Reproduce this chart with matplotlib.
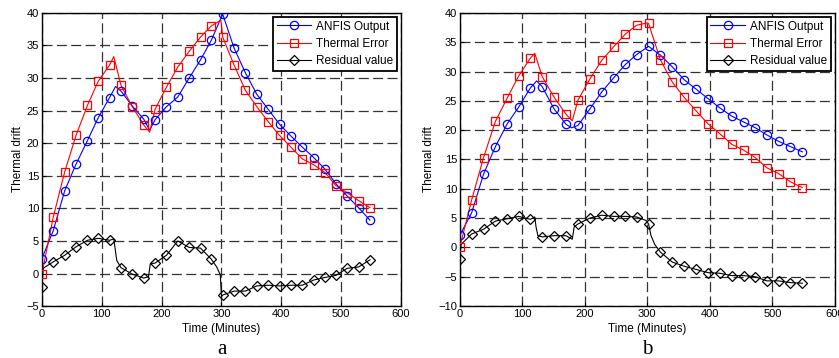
import numpy as np
import matplotlib
matplotlib.use('Agg')
import matplotlib.pyplot as plt
from matplotlib.lines import Line2D

plt.rcParams['font.family'] = ['Liberation Sans', 'DejaVu Sans']

# sample times where the markers sit (minutes)
t_mark = [0, 19, 38, 57, 76, 94, 113, 132, 151, 170, 189, 208, 227, 246, 265,
          283, 302, 321, 340, 359, 378, 397, 416, 435, 454, 473, 491, 510, 529, 548]

# ---- panel a ----
anfis_a = [2.3, 6.6, 12.7, 16.8, 20.4, 23.9, 27.0, 28.0, 25.7, 23.7, 23.6, 25.6, 27.1, 30.0, 32.8,
           35.8, 39.8, 34.6, 30.8, 27.5, 25.2, 22.9, 21.1, 19.4, 17.8, 16.0, 13.8, 11.9, 10.1, 8.2]
therm_a = [0.0, 8.7, 15.6, 21.2, 25.8, 29.5, 32.0, 28.9, 25.6, 22.8, 25.2, 28.6, 31.7, 34.1, 36.3,
           38.0, 36.3, 32.0, 28.1, 25.6, 23.3, 21.2, 19.4, 17.6, 16.7, 15.5, 13.5, 12.4, 11.2, 10.1]
resid_a = [-2.1, 1.8, 2.8, 4.1, 5.1, 5.4, 5.1, 0.9, -0.1, -0.7, 1.6, 2.8, 5.0, 4.0, 3.9,
           2.2, -3.3, -2.7, -2.7, -1.9, -1.8, -1.9, -1.8, -1.8, -1.0, -0.6, -0.3, 0.8, 1.0, 2.1]
# extra points of the traces between markers (time, value)
anfis_a_knots = [(123, 28.7), (180, 22.0)]
therm_a_knots = [(120, 33.3), (180, 21.7), (299, 38.9)]
resid_a_knots = [(2, 0.8), (120, 5.3), (122, 4.0), (125, 2.0), (178, -0.5), (181, 1.5),
                 (292, 1.0), (298, -0.2), (300, -3.6)]

# ---- panel b ----
anfis_b = [2.05, 5.9, 12.5, 17.2, 21.1, 23.9, 27.2, 27.4, 23.6, 21.0, 20.8, 23.6, 26.5, 28.9, 31.2,
           32.9, 34.3, 32.8, 30.8, 28.6, 27.0, 25.4, 23.8, 22.4, 21.4, 20.4, 19.2, 18.1, 17.2, 16.3]
therm_b = [0.05, 8.1, 15.3, 21.5, 25.5, 29.2, 32.3, 29.1, 25.6, 22.7, 25.1, 28.7, 31.9, 34.2, 36.4,
           37.9, 38.2, 32.0, 28.2, 25.6, 23.3, 21.1, 19.4, 17.6, 16.6, 15.3, 13.6, 12.6, 11.2, 10.2]
resid_b = [-2.0, 2.3, 3.1, 4.5, 4.9, 5.3, 4.8, 1.8, 2.0, 2.0, 4.0, 5.0, 5.5, 5.3, 5.3,
           5.2, 4.0, -0.8, -2.5, -3.2, -3.75, -4.3, -4.4, -4.8, -4.8, -5.0, -5.7, -5.7, -6.0, -6.1]
anfis_b_knots = [(123, 28.4), (179, 20.4)]
therm_b_knots = [(120, 33.1), (180, 21.6), (300, 38.3)]
resid_b_knots = [(2, 0.5), (120, 5.2), (122, 3.5), (125, 2.0), (180, 1.4), (183, 3.5),
                 (298, 4.6), (306, 2.0), (312, 0.5)]

x_ticks = [0, 100, 200, 300, 400, 500, 600]


def merge(vals, knots):
    pts = list(zip(t_mark, vals)) + list(knots)
    pts.sort(key=lambda p: p[0])
    return [p[0] for p in pts], [p[1] for p in pts]


styles = [('ANFIS Output', 'blue', 'o'),
          ('Thermal Error', 'red', 's'),
          ('Residual value', 'black', 'D')]


def draw(ax, series, ylim, yticks):
    handles = []
    for (name, col, mk), (vals, knots) in zip(styles, series):
        lx, ly = merge(vals, knots)
        ax.plot(lx, ly, color=col, lw=0.8, zorder=3)
        ms = 5 if mk == 'D' else 6
        ax.plot(t_mark, vals, ls='none', marker=mk, ms=ms, mfc='none', mec=col,
                mew=0.9, zorder=4)
        handles.append(Line2D([], [], color=col, lw=0.8, marker=mk, ms=ms,
                              mfc='none', mec=col, mew=0.9))
    ax.set_xlim(0, 600)
    ax.set_ylim(*ylim)
    ax.set_xticks(x_ticks)
    ax.set_yticks(yticks)
    ax.grid(True, color='#333333', ls=(0, (8, 3.5)), lw=0.9)
    ax.tick_params(direction='in', length=3, labelsize=8, pad=2)
    for s in ax.spines.values():
        s.set_linewidth(1.0)
    ax.set_xlabel('Time (Minutes)', fontsize=8.5, labelpad=3)
    ax.set_ylabel('Thermal drift', fontsize=8.5, labelpad=2)
    leg = ax.legend(handles, [s[0] for s in styles], loc='upper right', fontsize=8.5,
                    fancybox=False, framealpha=1, edgecolor='black', borderpad=0.3,
                    handlelength=2.9, labelspacing=0.45, borderaxespad=0.35,
                    handletextpad=0.45)
    leg.get_frame().set_linewidth(1.3)


fig = plt.figure(figsize=(8.39, 3.58), dpi=100)
ax1 = fig.add_axes([0.050, 0.145, 0.428, 0.819])
ax2 = fig.add_axes([0.548, 0.145, 0.447, 0.819])

draw(ax1, [(anfis_a, anfis_a_knots), (therm_a, therm_a_knots), (resid_a, resid_a_knots)],
     (-5, 40), np.arange(-5, 41, 5))
draw(ax2, [(anfis_b, anfis_b_knots), (therm_b, therm_b_knots), (resid_b, resid_b_knots)],
     (-10, 40), np.arange(-10, 41, 5))

fig.text(0.264, 0.012, 'a', fontsize=15, family='Liberation Serif', ha='center')
fig.text(0.771, 0.012, 'b', fontsize=15, family='Liberation Serif', ha='center')

fig.savefig('out.png', dpi=100)
